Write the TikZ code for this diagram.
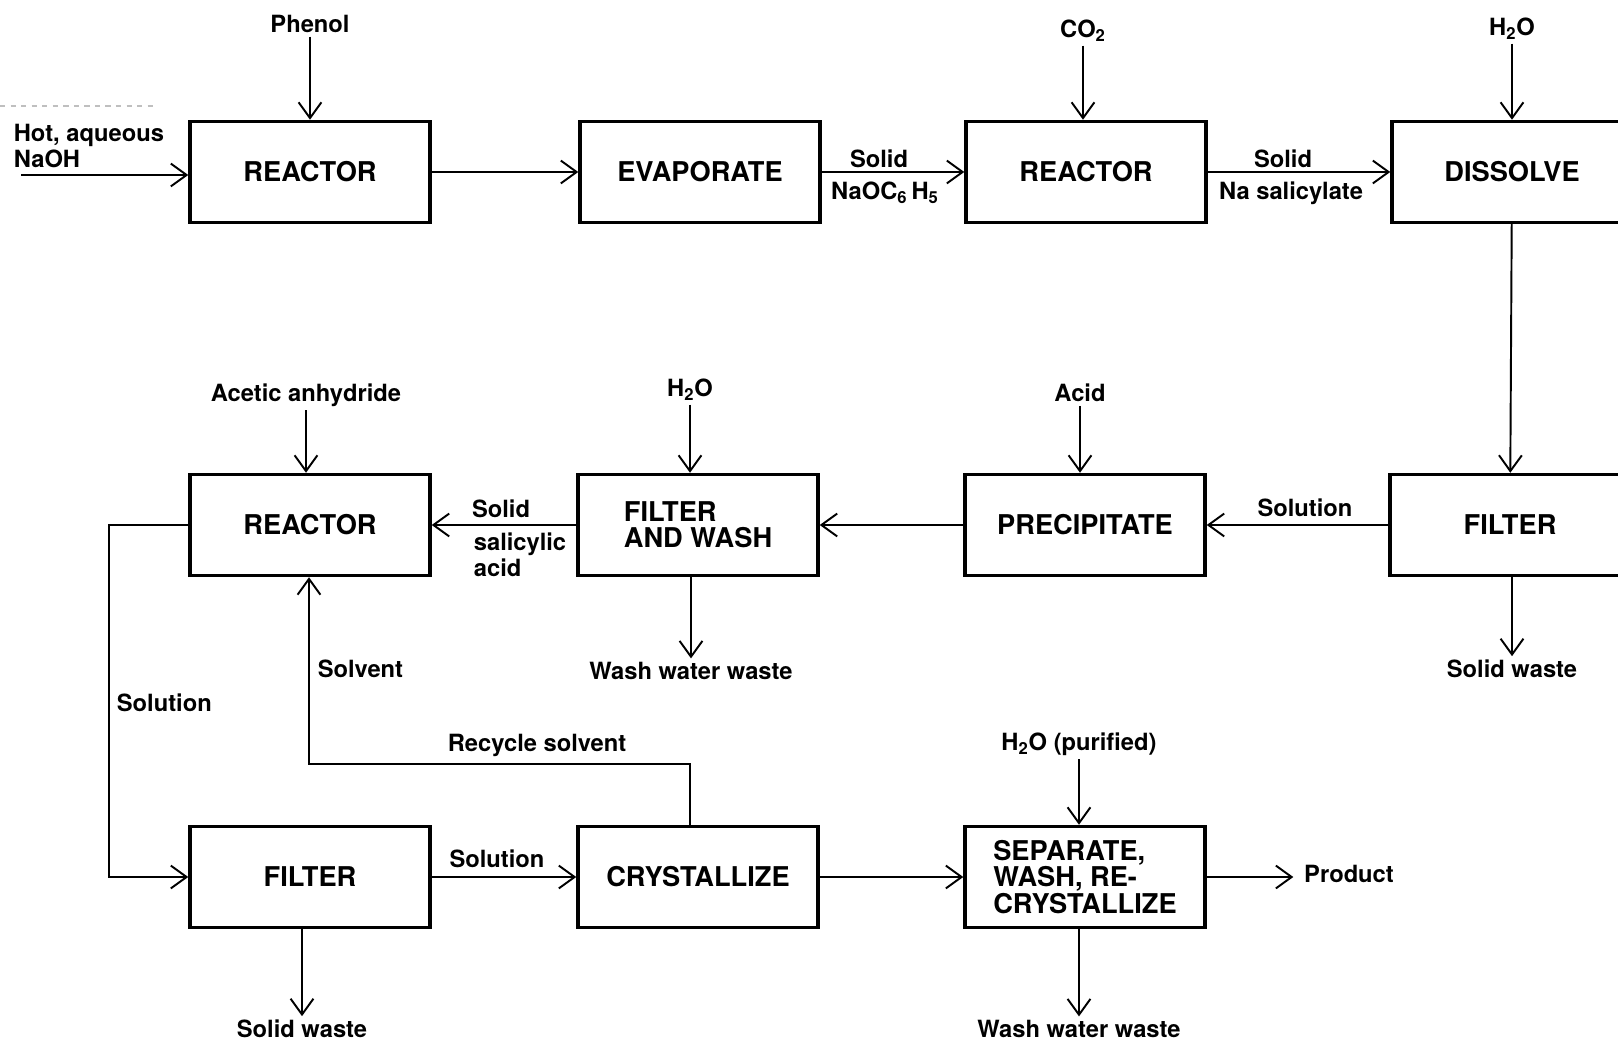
\documentclass[tikz,border=0pt]{standalone}
\usepackage{fontspec}
\setmainfont{TeX Gyre Heros}
\usetikzlibrary{arrows.meta,positioning}

\begin{document}
\begin{tikzpicture}[x=0.02cm,y=-0.02cm,
    box/.style={draw,line width=2pt,minimum width=4.8cm,minimum height=2.02cm,
      align=left,font=\fontsize{15.5}{15}\selectfont\bfseries},
    lbl/.style={font=\fontsize{13.5}{15}\selectfont\bfseries,inner sep=2pt,align=left},
    a/.style={-{Straight Barb[length=9pt,width=13pt]},line width=1.1pt}]
  \useasboundingbox (0,0) rectangle (1618,1043);
  \clip (0,0) rectangle (1618,1043);
  % first row
  \node[box] (r1) at (310,172) {REACTOR};
  \node[box] (evap) at (700,172) {EVAPORATE};
  \node[box] (r2) at (1086,172) {REACTOR};
  \node[box] (dis) at (1512,172) {DISSOLVE};
  % second row
  \node[box] (r3) at (310,525) {REACTOR};
  \node[box] (fw) at (698,525) {FILTER\\AND WASH};
  \node[box] (prec) at (1085,525) {PRECIPITATE};
  \node[box] (filr) at (1510,525) {FILTER};
  % third row
  \node[box] (filb) at (310,877) {FILTER};
  \node[box] (cry) at (698,877) {CRYSTALLIZE};
  \node[box] (sep) at (1085,877) {SEPARATE,\\WASH, RE-\\CRYSTALLIZE};
  % feeds
  \node[lbl] (phenol) at (310,24) {Phenol};
  \node[lbl] (co2) at (1083,31) {CO\textsubscript{2}};
  \node[lbl] (h2oa) at (1512,29) {H\textsubscript{2}O};
  \node[lbl] (acetic) at (306,395) {Acetic anhydride};
  \node[lbl] (h2ob) at (690,390) {H\textsubscript{2}O};
  \node[lbl] (acid) at (1080,393) {Acid};
  \node[lbl] (h2oc) at (1079,744) {H\textsubscript{2}O (purified)};
  \node[lbl,anchor=west] (naoh) at (10,146) {Hot, aqueous\\NaOH};
  \coordinate (in) at (21,175);
  \draw[gray!50,dashed,line width=0.6pt] (0,106) -- (155,106);
  % outputs
  \node[lbl] (washa) at (691,671) {Wash water waste};
  \node[lbl] (solida) at (1512,669) {Solid waste};
  \node[lbl] (solidb) at (302,1029) {Solid waste};
  \node[lbl] (washb) at (1079,1029) {Wash water waste};
  \node[lbl] (prod) at (1349,874) {Product};
  % stream labels
  \node[lbl] (sol1) at (879,159) {Solid};
  \node[lbl] (naoc) at (885,193) {NaOC\textsubscript{6}\,H\textsubscript{5}};
  \node[lbl] (sol2) at (1283,159) {Solid};
  \node[lbl] (nasal) at (1291,193) {Na salicylate};
  \node[lbl] (solu1) at (1305,508) {Solution};
  \node[lbl] (sol3) at (501,509) {Solid};
  \node[lbl] (salic) at (520,555) {salicylic\\acid};
  \node[lbl,anchor=west] (solu2) at (113,703) {Solution};
  \node[lbl] (solu3) at (497,859) {Solution};
  \node[lbl,anchor=west] (solv) at (314,669) {Solvent};
  \node[lbl] (recyc) at (537,745) {Recycle solvent};
  \coordinate (lp) at (109,525);
  \coordinate (rc) at (309,764);
  % arrows
  \draw[a] (phenol) -- (r1.north -| phenol);
  \draw[a] (co2) -- (r2.north -| co2);
  \draw[a] (h2oa) -- (dis.north -| h2oa);
  \draw[a] (acetic) -- (r3.north -| acetic);
  \draw[a] (h2ob) -- (fw.north -| h2ob);
  \draw[a] (acid) -- (prec.north -| acid);
  \draw[a] (h2oc) -- (sep.north -| h2oc);
  \draw[a] (in) -- (r1.west |- in);
  \draw[a] (r1) -- (evap);
  \draw[a] (evap) -- (r2);
  \draw[a] (r2) -- (dis);
  \draw[a] (dis) -- (filr);
  \draw[a] (filr) -- (prec);
  \draw[a] (prec) -- (fw);
  \draw[a] (fw) -- (r3);
  \draw[a] (r3.west) -- (lp) |- (filb.west);
  \draw[a] (filb) -- (cry);
  \draw[a] (cry) -- (sep);
  \draw[a] (cry.north -| h2ob) |- (rc) -- (r3.south -| rc);
  \draw[a,shorten >=4pt] (sep.east) -- (sep.east -| prod.west);
  \draw[a] (fw.south -| washa) -- (washa);
  \draw[a] (filr.south -| solida) -- (solida);
  \draw[a] (filb.south -| solidb) -- (solidb);
  \draw[a] (sep.south -| washb) -- (washb);
\end{tikzpicture}
\end{document}
